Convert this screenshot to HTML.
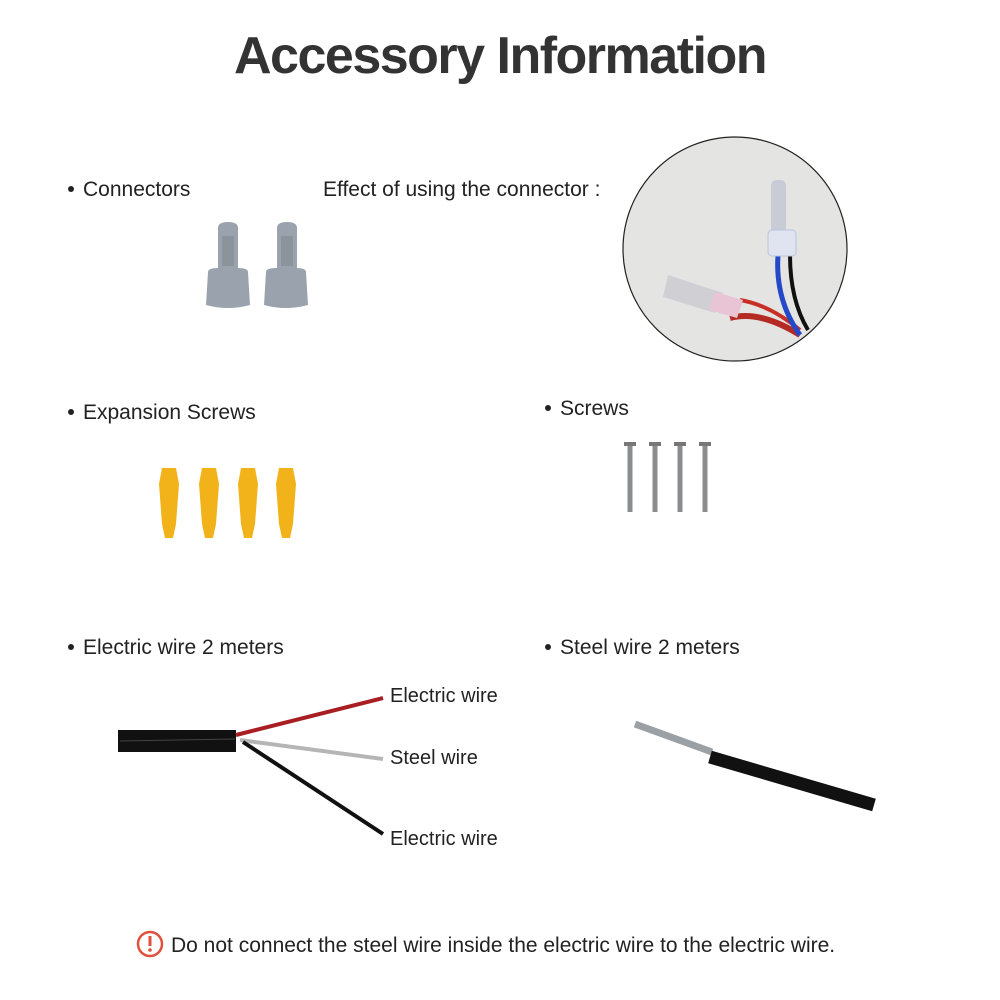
<!DOCTYPE html>
<html><head><meta charset="utf-8"><style>
body{margin:0;width:1000px;height:1000px;background:#fff;overflow:hidden;font-family:"Liberation Sans",sans-serif;}
svg{display:block}
</style></head><body>
<svg width="1000" height="1000" viewBox="0 0 1000 1000" xmlns="http://www.w3.org/2000/svg" font-family="Liberation Sans, sans-serif">
<text x="500" y="73" text-anchor="middle" font-size="52" font-weight="bold" fill="#333" letter-spacing="-1.5">Accessory Information</text>
<g font-size="21" fill="#222">
<circle cx="71" cy="189" r="3"/><text x="83" y="196">Connectors</text>
<text x="323" y="196">Effect of using the connector :</text>
<circle cx="71" cy="412" r="3"/><text x="83" y="419">Expansion Screws</text>
<circle cx="548" cy="408" r="3"/><text x="560" y="415">Screws</text>
<circle cx="71" cy="647" r="3"/><text x="83" y="654">Electric wire 2 meters</text>
<circle cx="548" cy="647" r="3"/><text x="560" y="654">Steel wire 2 meters</text>
<text x="171" y="952">Do not connect the steel wire inside the electric wire to the electric wire.</text>
</g>
<g font-size="20" fill="#222">
<text x="390" y="702">Electric wire</text>
<text x="390" y="764">Steel wire</text>
<text x="390" y="845">Electric wire</text>
</g>
<circle cx="150" cy="944" r="12" fill="none" stroke="#e0503c" stroke-width="2.5"/>
<rect x="148.5" y="936" width="3" height="10" fill="#e0503c"/><circle cx="150" cy="950" r="1.8" fill="#e0503c"/>
<!-- connectors -->
<g fill="#9aa3ad">
<path d="M218 228 q0-6 10-6 q10 0 10 6 v42 h-20z"/><path d="M208 272 q0-4 10-4 h20 q10 0 10 4 l2 33 q-22 6 -44 0z"/>
<path d="M277 228 q0-6 10-6 q10 0 10 6 v42 h-20z"/><path d="M266 272 q0-4 10-4 h20 q10 0 10 4 l2 33 q-22 6 -44 0z"/>
</g>
<rect x="222" y="236" width="12" height="30" fill="#8b939b"/><rect x="281" y="236" width="12" height="30" fill="#8b939b"/>
<!-- circle photo -->
<circle cx="735" cy="249" r="112" fill="#e4e5e3" stroke="#222" stroke-width="1.2"/>
<path d="M730 318 Q760 310 800 335" stroke="#b52a22" stroke-width="6" fill="none"/>
<path d="M740 300 Q770 305 800 330" stroke="#c83026" stroke-width="4" fill="none"/>
<path d="M778 255 Q775 300 800 335" stroke="#2348c8" stroke-width="5" fill="none"/>
<path d="M790 255 Q790 300 808 330" stroke="#111" stroke-width="4" fill="none"/>
<rect x="771" y="180" width="15" height="55" rx="5" fill="#c8ccd6"/>
<rect x="768" y="230" width="28" height="26" rx="4" fill="#dfe4f0" stroke="#b8c4dc"/>
<path d="M668 275 l55 18 l-8 20 l-52 -16z" fill="#cfcfd4"/>
<path d="M715 292 l28 8 l-6 18 l-28 -8z" fill="#e8c4d4"/>
<!-- expansion screws -->
<g fill="#f2b21a">
<path d="M162 468 h14 l3 16 l-3 40 l-3 14 h-8 l-3 -14 l-3 -40z"/>
<path d="M202 468 h14 l3 16 l-3 40 l-3 14 h-8 l-3 -14 l-3 -40z"/>
<path d="M241 468 h14 l3 16 l-3 40 l-3 14 h-8 l-3 -14 l-3 -40z"/>
<path d="M279 468 h14 l3 16 l-3 40 l-3 14 h-8 l-3 -14 l-3 -40z"/>
</g>
<!-- screws -->
<g stroke="#8a8d90" stroke-width="5">
<line x1="630" y1="446" x2="630" y2="512"/><line x1="655" y1="446" x2="655" y2="512"/>
<line x1="680" y1="446" x2="680" y2="512"/><line x1="705" y1="446" x2="705" y2="512"/>
</g>
<g fill="#777"><rect x="624" y="442" width="12" height="4"/><rect x="649" y="442" width="12" height="4"/><rect x="674" y="442" width="12" height="4"/><rect x="699" y="442" width="12" height="4"/></g>
<!-- electric wire -->
<rect x="118" y="730" width="118" height="22" fill="#111"/>
<line x1="120" y1="741" x2="235" y2="739" stroke="#444" stroke-width="1"/>
<path d="M236 735 L383 698" stroke="#a81e22" stroke-width="4"/>
<path d="M240 740 L383 759" stroke="#b5b5b5" stroke-width="4"/>
<path d="M243 742 L383 834" stroke="#111" stroke-width="4"/>
<!-- steel wire -->
<line x1="635" y1="724" x2="712" y2="752" stroke="#9aa0a4" stroke-width="7"/>
<line x1="710" y1="757" x2="874" y2="805" stroke="#111" stroke-width="13"/>
</svg>
</body></html>
